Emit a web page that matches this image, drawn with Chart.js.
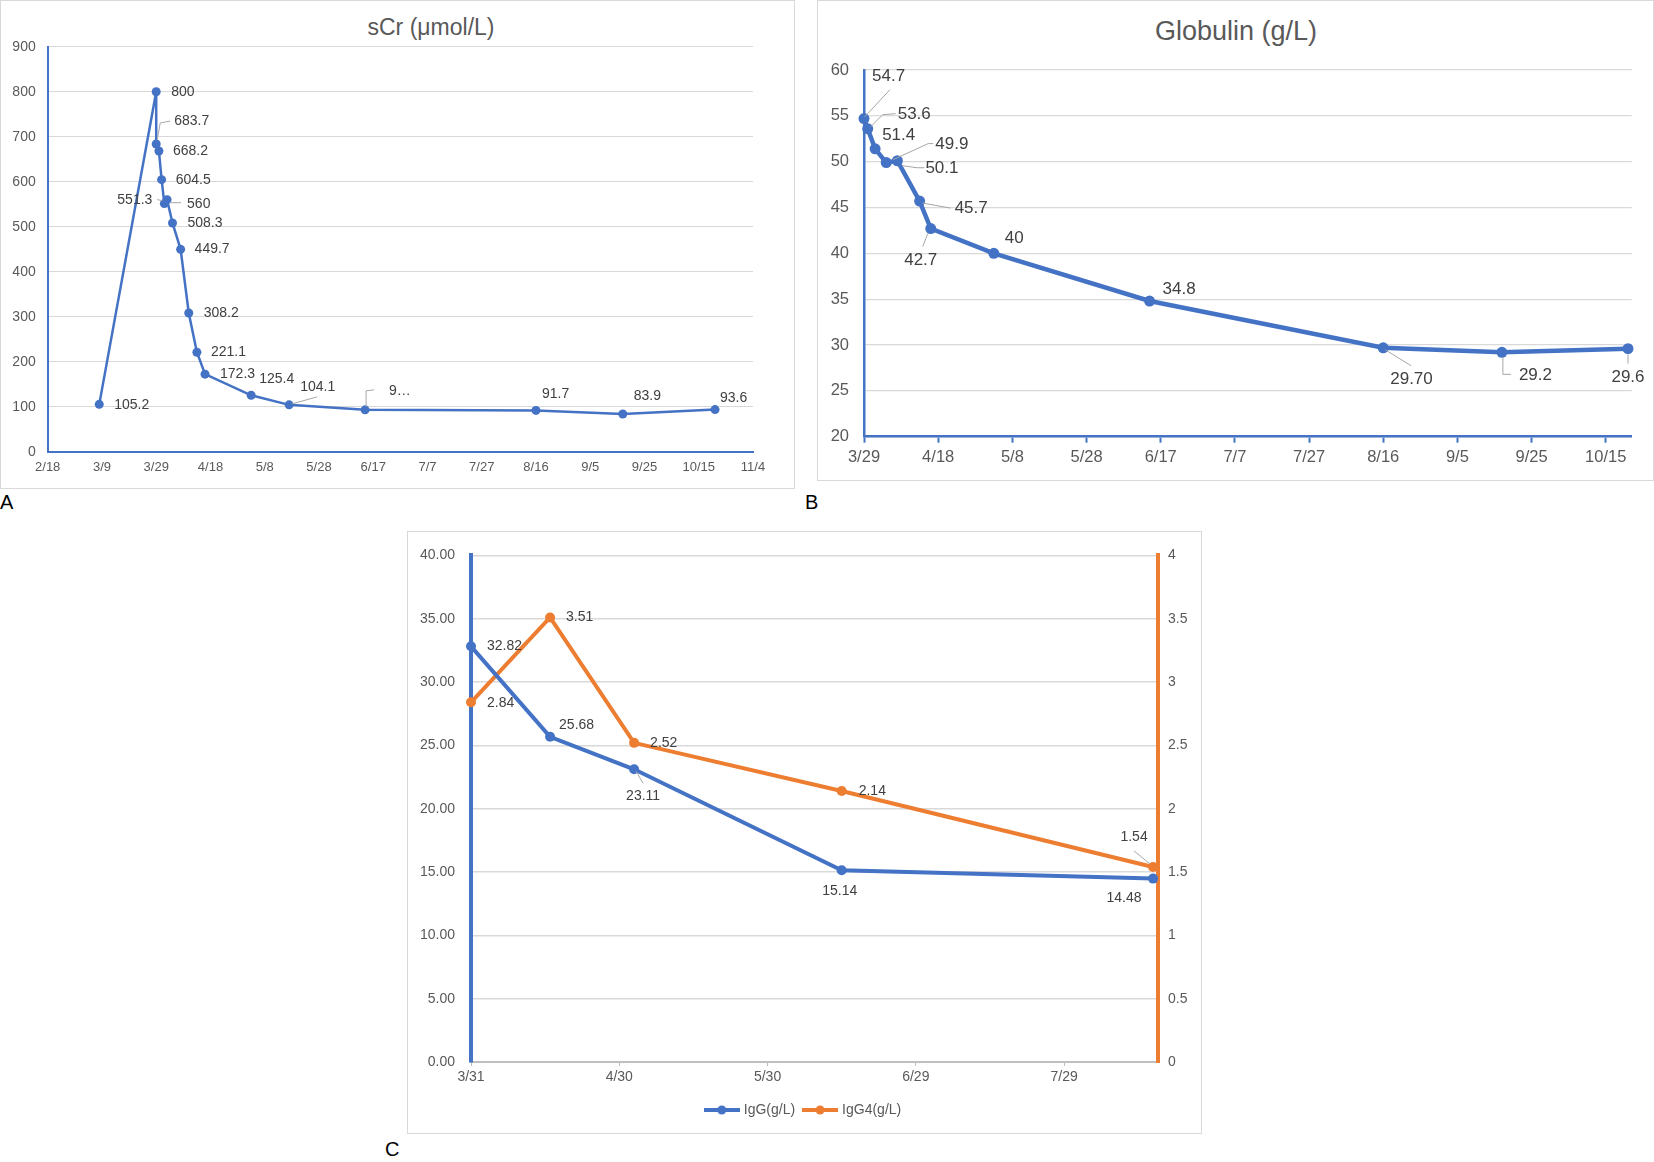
<!DOCTYPE html>
<html>
<head>
<meta charset="utf-8">
<script src="https://cdn.jsdelivr.net/npm/chart.js@4.4.1/dist/chart.umd.min.js"></script>
<style>
  body { margin: 0; background: #fff; font-family: "Liberation Sans", Arial, sans-serif; }
  .panel { position: absolute; border: 1px solid #d9d9d9; box-sizing: border-box; }
  .title { position: absolute; text-align: center; color: #595959; white-space: nowrap; }
  .tag { position: absolute; font-size: 20px; line-height: 20px; color: #000; }
  canvas { position: absolute; }
</style>
</head>
<body>
<div class="panel" style="left:0;top:0;width:795px;height:489px"></div>
<div class="panel" style="left:817px;top:0;width:837px;height:481px"></div>
<div class="panel" style="left:407px;top:531px;width:795px;height:603px"></div>

<div class="title" style="left:300px;top:16px;width:262px;font-size:23px;line-height:23px">sCr (μmol/L)</div>
<div class="title" style="left:1086px;top:18px;width:300px;font-size:27px;line-height:27px">Globulin (g/L)</div>

<canvas id="chartA" width="795" height="489" style="left:0;top:0"></canvas>
<canvas id="chartB" width="836" height="480" style="left:817px;top:0"></canvas>
<canvas id="chartC" width="794" height="602" style="left:407px;top:531px"></canvas>

<div class="tag" style="left:0;top:492px">A</div>
<div class="tag" style="left:805px;top:492px">B</div>
<div class="tag" style="left:385px;top:1139px">C</div>

<script>
// sCr
const scrDates = ['3/8', '3/29', '3/29', '3/30', '3/31', '4/1', '4/2', '4/4', '4/7', '4/10', '4/13', '4/16', '5/3', '5/17', '6/14', '8/16', '9/17', '10/21'];
const scrValues = [105.2, 800, 683.7, 668.2, 604.5, 551.3, 560, 508.3, 449.7, 308.2, 221.1, 172.3, 125.4, 104.1, 93, 91.7, 83.9, 93.6];
const scrText = ['105.2', '800', '683.7', '668.2', '604.5', '551.3', '560', '508.3', '449.7', '308.2', '221.1', '172.3', '125.4', '104.1', '9…', '91.7', '83.9', '93.6'];
const ticksA = ['2/18', '3/9', '3/29', '4/18', '5/8', '5/28', '6/17', '7/7', '7/27', '8/16', '9/5', '9/25', '10/15', '11/4'];

// Globulin
const globDates = ['3/29', '3/30', '4/1', '4/4', '4/7', '4/13', '4/16', '5/3', '6/14', '8/16', '9/17', '10/21'];
const globValues = [54.7, 53.6, 51.4, 49.9, 50.1, 45.7, 42.7, 40, 34.8, 29.7, 29.2, 29.6];
const globText = ['54.7', '53.6', '51.4', '49.9', '50.1', '45.7', '42.7', '40', '34.8', '29.70', '29.2', '29.6'];
const ticksB = ['3/29', '4/18', '5/8', '5/28', '6/17', '7/7', '7/27', '8/16', '9/5', '9/25', '10/15'];

// IgG / IgG4
const igDates = ['3/31', '4/16', '5/3', '6/14', '8/16'];
const iggValues = [32.82, 25.68, 23.11, 15.14, 14.48];
const igg4Values = [2.84, 3.51, 2.52, 2.14, 1.54];
const ticksC = ['3/31', '4/30', '5/30', '6/29', '7/29'];

const BLUE = '#4472C4';
const ORANGE = '#ED7D31';
const GRID = '#d9d9d9';
const TXT = '#595959';

Chart.defaults.font.family = '"Liberation Sans", Arial, sans-serif';
Chart.defaults.color = TXT;

function dayNum(md) {
  const [m, d] = md.split('/').map(Number);
  return Date.UTC(2020, m - 1, d) / 86400000;
}
function points(dates, values, start) {
  const s = dayNum(start);
  return dates.map((d, i) => ({ x: dayNum(d) - s, y: values[i] }));
}
// one tick per date label, every `step` days from the axis start
function dateTicks(labels, step) {
  return s => { s.ticks = labels.map((_, i) => ({ value: i * step })); };
}

// label placement, kept apart from the data: [dx, dy, align]
const scrPos = [[15, 1], [15, 0], [18, -23], [14, 0], [14, 0], [-12, -3, 'right'], [20, 4], [15, 0], [14, 0],
  [15, 0], [14, 0], [15, 0], [8, -16], [11, -18], [24, -19], [6, -16], [11, -18], [5, -11]];
const scrLeaders = { 2: [[1, -4], [4, -21], [14, -23]], 5: [[-7, -4], [-2, -3]], 6: [[4, 3], [14, 3]],
  13: [[3, -1], [28, -8]], 14: [[1, -3], [1, -19], [9, -20]] };

const globPos = [[8, -42], [30, -14], [7, -14], [49, -18], [28, 8], [35, 7], [-10, 32, 'center'], [11, -15],
  [13, -12], [7, 32], [17, 23], [0, 29, 'center']];
const globLeaders = { 0: [[1, -2], [26, -29]], 1: [[3, -2], [15, -14], [28, -15]], 3: [[7, -3], [42, -19], [47, -19]],
  4: [[5, 5], [20, 7], [27, 7]], 5: [[3, 2], [31, 7]], 6: [[-3, 5], [-8, 18]], 9: [[2, 2], [28, 18]],
  10: [[1, 5], [1, 22], [9, 22]], 11: [[0, 6], [0, 15]] };

const iggPos = [[16, 0], [9, -12], [9, 27, 'center'], [-2, 21, 'center'], [-29, 20, 'center']];
const iggLeaders = { 2: [[2, 2], [9, 14]] };
const igg4Pos = [[16, 1], [16, 0], [16, 0], [17, 0], [-19, -30, 'center']];
const igg4Leaders = { 4: [[-19, -16], [-3, -3]] };

const valueLabels = {
  id: 'valueLabels',
  afterDatasetsDraw(chart, args, opts) {
    const ctx = chart.ctx;
    opts.sets.forEach((set, di) => {
      const meta = chart.getDatasetMeta(di);
      ctx.save();
      meta.data.forEach((pt, i) => {
        const lead = set.leaders[i];
        if (lead) {
          ctx.beginPath();
          ctx.strokeStyle = '#a6a6a6';
          ctx.lineWidth = 1;
          ctx.moveTo(pt.x + lead[0][0], pt.y + lead[0][1]);
          for (let k = 1; k < lead.length; k++) ctx.lineTo(pt.x + lead[k][0], pt.y + lead[k][1]);
          ctx.stroke();
        }
        const p = set.pos[i];
        ctx.font = opts.font;
        ctx.fillStyle = '#404040';
        ctx.textBaseline = 'middle';
        ctx.textAlign = p[2] || 'left';
        ctx.fillText(set.text[i], pt.x + p[0], pt.y + p[1]);
      });
      ctx.restore();
    });
  }
};

// A: sCr
new Chart(document.getElementById('chartA'), {
  type: 'line',
  data: {
    datasets: [{
      data: points(scrDates, scrValues, '2/18'),
      borderColor: BLUE, backgroundColor: BLUE,
      borderWidth: 2.5, pointRadius: 4.5, pointBorderWidth: 0, clip: false
    }]
  },
  options: {
    responsive: false, animation: false,
    layout: { padding: { top: 46.7, right: 42, bottom: 0, left: 0 } },
    plugins: {
      legend: { display: false }, tooltip: { enabled: false },
      valueLabels: { font: '14px "Liberation Sans", Arial', sets: [{ text: scrText, pos: scrPos, leaders: scrLeaders }] }
    },
    scales: {
      x: {
        type: 'linear', min: 0, max: 260,
        afterFit: s => { s.height = 37.3; },
        afterBuildTicks: dateTicks(ticksA, 20),
        ticks: { autoSkip: false, maxRotation: 0, padding: 8, font: { size: 13 },
          callback: v => ticksA[v / 20] },
        grid: { drawOnChartArea: false, drawTicks: false },
        border: { color: BLUE, width: 2 }
      },
      y: {
        min: 0, max: 900,
        afterFit: s => { s.width = 47.7; },
        ticks: { stepSize: 100, padding: 12, font: { size: 14 } },
        grid: { color: GRID, drawTicks: false },
        border: { color: BLUE, width: 2 }
      }
    }
  },
  plugins: [valueLabels]
});

// B: Globulin
new Chart(document.getElementById('chartB'), {
  type: 'line',
  data: {
    datasets: [{
      data: points(globDates, globValues, '3/29'),
      borderColor: BLUE, backgroundColor: BLUE,
      borderWidth: 4.5, pointRadius: 5.5, pointBorderWidth: 0, clip: false
    }]
  },
  options: {
    responsive: false, animation: false,
    layout: { padding: { top: 70, right: 21.3, bottom: 0, left: 0 } },
    plugins: {
      legend: { display: false }, tooltip: { enabled: false },
      valueLabels: { font: '17px "Liberation Sans", Arial', sets: [{ text: globText, pos: globPos, leaders: globLeaders }] }
    },
    scales: {
      x: {
        type: 'linear', min: 0, max: 207,
        afterFit: s => { s.height = 43.3; },
        afterBuildTicks: dateTicks(ticksB, 20),
        ticks: { autoSkip: false, maxRotation: 0, padding: 5, font: { size: 16.5 },
          callback: v => ticksB[v / 20] },
        grid: { drawOnChartArea: false, drawTicks: true, tickLength: 6, tickColor: BLUE, tickWidth: 2 },
        border: { color: BLUE, width: 2.5 }
      },
      y: {
        min: 20, max: 60,
        afterFit: s => { s.width = 47; },
        ticks: { stepSize: 5, padding: 15, font: { size: 16.5 } },
        grid: { color: GRID, drawTicks: false, lineWidth: 1.2 },
        border: { color: BLUE, width: 2.5 }
      }
    }
  },
  plugins: [valueLabels]
});

// C: IgG / IgG4
function legendMark(color) {
  const c = document.createElement('canvas');
  c.width = 36; c.height = 10;
  const g = c.getContext('2d');
  g.strokeStyle = color; g.lineWidth = 4;
  g.beginPath(); g.moveTo(0, 5); g.lineTo(36, 5); g.stroke();
  g.fillStyle = color;
  g.beginPath(); g.arc(18, 5, 4.5, 0, Math.PI * 2); g.fill();
  return c;
}
const marks = [legendMark(BLUE), legendMark(ORANGE)];

new Chart(document.getElementById('chartC'), {
  type: 'line',
  data: {
    datasets: [{
      label: 'IgG(g/L)',
      data: points(igDates, iggValues, '3/31'),
      yAxisID: 'y',
      borderColor: BLUE, backgroundColor: BLUE,
      borderWidth: 4, pointRadius: 5, pointBorderWidth: 0, clip: false
    }, {
      label: 'IgG4(g/L)',
      data: points(igDates, igg4Values, '3/31'),
      yAxisID: 'y1',
      borderColor: ORANGE, backgroundColor: ORANGE,
      borderWidth: 4, pointRadius: 5, pointBorderWidth: 0, clip: false
    }]
  },
  options: {
    responsive: false, animation: false,
    layout: { padding: { top: 19, right: 0, bottom: 6, left: 0 } },
    plugins: {
      tooltip: { enabled: false },
      legend: {
        position: 'bottom',
        labels: {
          usePointStyle: true, pointStyleWidth: 30, padding: 10,
          color: TXT, font: { size: 14 },
          generateLabels: chart => {
            const items = Chart.defaults.plugins.legend.labels.generateLabels(chart);
            items.forEach((it, i) => { it.pointStyle = marks[i]; });
            return items;
          }
        }
      },
      valueLabels: {
        font: '14px "Liberation Sans", Arial',
        sets: [
          { text: iggValues.map(v => v.toFixed(2)), pos: iggPos, leaders: iggLeaders },
          { text: igg4Values.map(v => v.toFixed(2)), pos: igg4Pos, leaders: igg4Leaders }
        ]
      }
    },
    scales: {
      x: {
        type: 'linear', min: 0, max: 139,
        afterFit: s => { s.height = 31; },
        afterBuildTicks: dateTicks(ticksC, 30),
        ticks: { autoSkip: false, maxRotation: 0, padding: 3, font: { size: 14 },
          callback: v => ticksC[v / 30] },
        grid: { drawOnChartArea: false, drawTicks: true, tickLength: 4, tickColor: '#bfbfbf' },
        border: { color: '#bfbfbf', width: 2 }
      },
      y: {
        position: 'left', min: 0, max: 40,
        afterFit: s => { s.width = 64; },
        ticks: { stepSize: 5, padding: 16, font: { size: 14 }, callback: v => v.toFixed(2) },
        grid: { color: GRID, drawTicks: false, lineWidth: 1.5 },
        border: { color: BLUE, width: 4 }
      },
      y1: {
        position: 'right', min: 0, max: 4,
        afterFit: s => { s.width = 43; },
        ticks: { stepSize: 0.5, padding: 10, font: { size: 14 }, callback: v => String(v) },
        grid: { drawOnChartArea: false, drawTicks: false },
        border: { color: ORANGE, width: 4 }
      }
    }
  },
  plugins: [valueLabels]
});
</script>
</body>
</html>
